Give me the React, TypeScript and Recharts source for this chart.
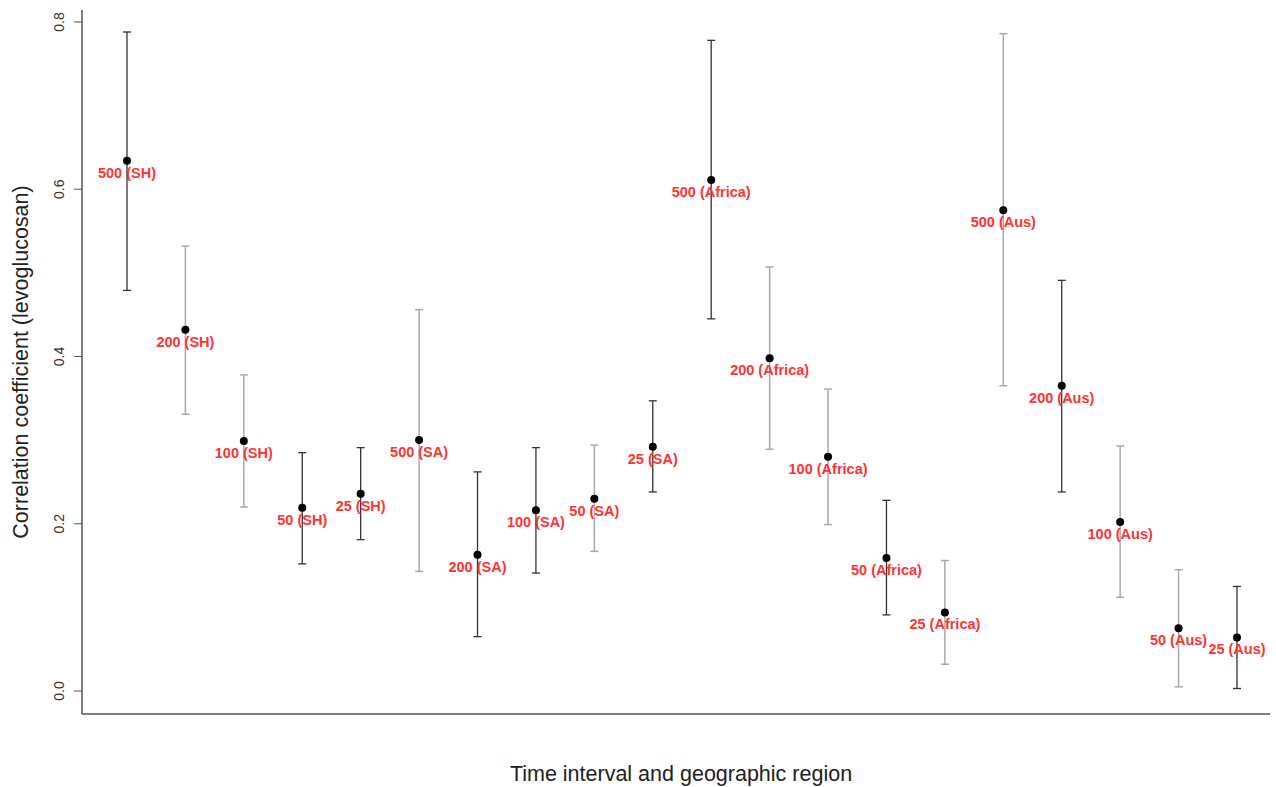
import React from 'react';
import {
  ScatterChart,
  Scatter,
  XAxis,
  YAxis,
  ErrorBar,
  Label
} from 'recharts';

const labels = [
  '500 (SH)', '200 (SH)', '100 (SH)', '50 (SH)', '25 (SH)',
  '500 (SA)', '200 (SA)', '100 (SA)', '50 (SA)', '25 (SA)',
  '500 (Africa)', '200 (Africa)', '100 (Africa)', '50 (Africa)', '25 (Africa)',
  '500 (Aus)', '200 (Aus)', '100 (Aus)', '50 (Aus)', '25 (Aus)'
];
const values = [
  0.634, 0.432, 0.299, 0.219, 0.236,
  0.300, 0.163, 0.216, 0.230, 0.292,
  0.611, 0.398, 0.280, 0.159, 0.094,
  0.575, 0.365, 0.202, 0.075, 0.064
];
const lows = [
  0.479, 0.331, 0.220, 0.152, 0.181,
  0.143, 0.065, 0.141, 0.167, 0.238,
  0.445, 0.289, 0.199, 0.091, 0.032,
  0.365, 0.238, 0.112, 0.005, 0.003
];
const highs = [
  0.788, 0.532, 0.378, 0.285, 0.291,
  0.456, 0.262, 0.291, 0.294, 0.347,
  0.778, 0.507, 0.361, 0.228, 0.156,
  0.786, 0.491, 0.293, 0.145, 0.125
];
// which intervals get the dark whiskers
const darkBars = [
  true, false, false, true, true,
  false, true, true, false, true,
  true, false, false, true, false,
  false, true, false, false, true
];
const yTicks = [0, 0.2, 0.4, 0.6, 0.8];

const points = labels.map((label, i) => ({
  x: i + 1,
  y: values[i],
  err: [values[i] - lows[i], highs[i] - values[i]],
  label
}));
const darkPoints = points.filter((_, i) => darkBars[i]);
const lightPoints = points.filter((_, i) => !darkBars[i]);

const font = '"Liberation Sans", Arial, Helvetica, sans-serif';

const RotTick = (props: any) => {
  const { x, y, payload } = props;
  const tx = x - 8;
  return (
    <text
      x={tx}
      y={y}
      transform={`rotate(-90, ${tx}, ${y})`}
      textAnchor="middle"
      fontSize={14}
      fontFamily={font}
      fill="#333"
    >
      {payload.value.toFixed(1)}
    </text>
  );
};

const PointShape = (props: any) => {
  const { cx, cy, payload } = props;
  return (
    <g>
      <circle cx={cx} cy={cy} r={4} fill="#000" />
      <text
        x={cx}
        y={cy + 17}
        textAnchor="middle"
        fontSize={14.5}
        fontWeight="bold"
        fontFamily={font}
        fill="#ff3333"
      >
        {payload.label}
      </text>
    </g>
  );
};

const NoShape = () => <g />;

const App: React.FC = () => {
  return (
    <div style={{ position: 'absolute', left: 0, top: 0, width: 1276, height: 787, background: '#fff' }}>
      <ScatterChart
        width={1276}
        height={787}
        margin={{ top: 10, right: 6, bottom: 0, left: 0 }}
      >
        <XAxis
          type="number"
          dataKey="x"
          domain={[0.23, 20.565]}
          allowDataOverflow
          height={73}
          tick={false}
          tickLine={false}
          axisLine={{ stroke: '#555', strokeWidth: 1.5 }}
        >
          <Label
            content={() => (
              <text x={681} y={781} textAnchor="middle" fontSize={21.5} fontFamily={font} fill="#222">
                Time interval and geographic region
              </text>
            )}
          />
        </XAxis>
        <YAxis
          type="number"
          dataKey="y"
          domain={[-0.0275, 0.8143]}
          allowDataOverflow
          ticks={yTicks}
          width={82}
          tickSize={8}
          tick={RotTick}
          tickLine={{ stroke: '#555' }}
          axisLine={{ stroke: '#555', strokeWidth: 1.5 }}
        >
          <Label
            content={() => (
              <text
                x={28}
                y={362}
                transform="rotate(-90, 28, 362)"
                textAnchor="middle"
                fontSize={21.5}
                fontFamily={font}
                fill="#222"
              >
                Correlation coefficient (levoglucosan)
              </text>
            )}
          />
        </YAxis>
        <Scatter data={lightPoints} shape={NoShape} isAnimationActive={false}>
          <ErrorBar dataKey="err" direction="y" width={4} stroke="#aaa" strokeWidth={1.5} isAnimationActive={false} />
        </Scatter>
        <Scatter data={darkPoints} shape={NoShape} isAnimationActive={false}>
          <ErrorBar dataKey="err" direction="y" width={4} stroke="#333" strokeWidth={1.3} isAnimationActive={false} />
        </Scatter>
        <Scatter data={points} shape={PointShape} isAnimationActive={false} />
      </ScatterChart>
    </div>
  );
};

export default App;
